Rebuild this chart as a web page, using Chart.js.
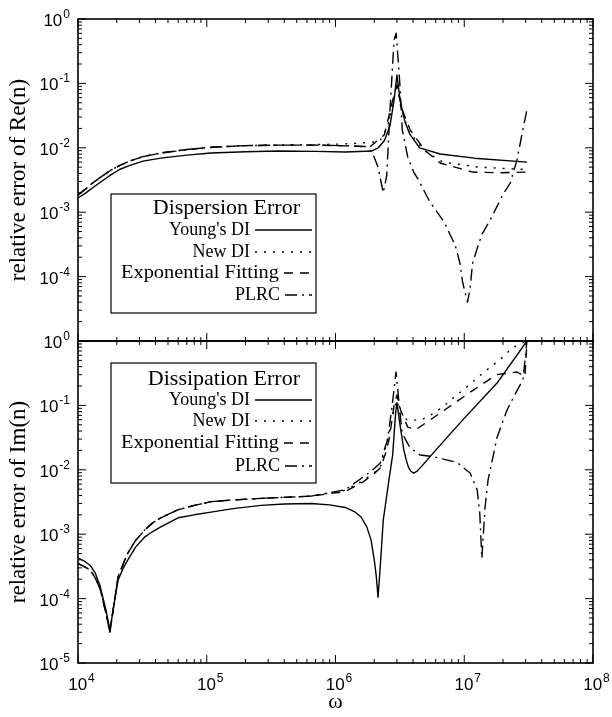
<!DOCTYPE html>
<html>
<head>
<meta charset="utf-8">
<script src="https://cdn.jsdelivr.net/npm/chart.js@4.4.1/dist/chart.umd.min.js"></script>
<style>
  html, body { margin: 0; padding: 0; background: #fff; }
</style>
</head>
<body>
<canvas id="chart" width="612" height="717"></canvas>
<script>
// tick values
const xTicks = [1e4, 1e5, 1e6, 1e7, 1e8];
const reTicks = [1, 1e-1, 1e-2, 1e-3, 1e-4];
const imTicks = [1, 1e-1, 1e-2, 1e-3, 1e-4, 1e-5];
const names = ["Young's DI", 'New DI', 'Exponential Fitting', 'PLRC'];

// dispersion error, relative error of Re(n)
const reYoungW = [1e4, 1.15e4, 1.3e4, 1.5e4, 1.8e4, 2.1e4, 2.5e4, 3.2e4, 4.4e4, 7e4, 1.08e5, 2e5, 3.6e5, 7e5, 1.2e6, 1.9e6, 2.15e6, 2.4e6, 2.65e6, 2.85e6, 3.0e6, 3.17e6, 3.47e6, 3.8e6, 4.5e6, 6.5e6, 1.2e7, 3.07e7];
const reYoungV = [1.66e-3, 2.0e-3, 2.4e-3, 2.95e-3, 3.8e-3, 4.6e-3, 5.3e-3, 6.2e-3, 6.9e-3, 7.7e-3, 8.3e-3, 8.7e-3, 8.9e-3, 8.8e-3, 8.6e-3, 8.9e-3, 1.0e-2, 1.3e-2, 2.2e-2, 5.5e-2, 0.135, 5.5e-2, 2.5e-2, 1.6e-2, 1.0e-2, 8.0e-3, 6.9e-3, 6.0e-3];
const reNewW = [1e4, 1.15e4, 1.3e4, 1.5e4, 1.8e4, 2.1e4, 2.5e4, 3.2e4, 4.4e4, 7e4, 1.08e5, 2e5, 3.6e5, 7e5, 1.2e6, 1.7e6, 2.2e6, 2.55e6, 2.85e6, 3.0e6, 3.2e6, 3.7e6, 4.9e6, 6.8e6, 1.3e7, 3.07e7];
const reNewV = [1.86e-3, 2.3e-3, 2.85e-3, 3.5e-3, 4.5e-3, 5.3e-3, 6.2e-3, 7.3e-3, 8.3e-3, 9.3e-3, 1.01e-2, 1.08e-2, 1.1e-2, 1.12e-2, 1.15e-2, 1.2e-2, 1.25e-2, 2.2e-2, 6e-2, 0.1, 4.5e-2, 1.8e-2, 9e-3, 6e-3, 5e-3, 4.6e-3];
const reExpW = [1e4, 1.15e4, 1.3e4, 1.5e4, 1.8e4, 2.1e4, 2.5e4, 3.2e4, 4.4e4, 7e4, 1.08e5, 2e5, 3.6e5, 7e5, 1.2e6, 1.85e6, 2.4e6, 2.78e6, 3.0e6, 3.3e6, 3.8e6, 4.9e6, 6.5e6, 1.16e7, 1.9e7, 3.07e7];
const reExpV = [1.86e-3, 2.3e-3, 2.85e-3, 3.5e-3, 4.5e-3, 5.3e-3, 6.2e-3, 7.3e-3, 8.3e-3, 9.4e-3, 1.02e-2, 1.08e-2, 1.1e-2, 1.1e-2, 1.07e-2, 1.03e-2, 1.6e-2, 5.5e-2, 0.095, 3.9e-2, 1.9e-2, 9.3e-3, 5.8e-3, 4.2e-3, 4.1e-3, 4.2e-3];
const rePlrcW = [1e4, 1.15e4, 1.3e4, 1.5e4, 1.8e4, 2.1e4, 2.5e4, 3.2e4, 4.4e4, 7e4, 1.08e5, 2e5, 3.6e5, 7e5, 1.2e6, 1.7e6, 1.93e6, 2.14e6, 2.35e6, 2.5e6, 2.65e6, 2.85e6, 2.96e6, 3.15e6, 3.3e6, 3.64e6, 4.05e6, 4.4e6, 5.4e6, 7.0e6, 7.75e6, 8.5e6, 9.27e6, 9.7e6, 1.06e7, 1.11e7, 1.16e7, 1.25e7, 1.37e7, 1.64e7, 1.82e7, 2.0e7, 2.27e7, 2.57e7, 2.82e7, 3.07e7];
const rePlrcV = [1.86e-3, 2.3e-3, 2.85e-3, 3.5e-3, 4.5e-3, 5.3e-3, 6.2e-3, 7.3e-3, 8.3e-3, 9.4e-3, 1.02e-2, 1.08e-2, 1.1e-2, 1.1e-2, 1.08e-2, 1.05e-2, 8.5e-3, 5e-3, 2.0e-3, 3.7e-3, 3.9e-2, 0.47, 0.6, 0.11, 1.9e-2, 7.2e-3, 4.2e-3, 3.2e-3, 1.45e-3, 7e-4, 4.5e-4, 3.1e-4, 1.6e-4, 8.3e-5, 4.0e-5, 6.6e-5, 1.6e-4, 2.6e-4, 4.5e-4, 8.5e-4, 1.3e-3, 1.9e-3, 2.8e-3, 6.5e-3, 1.7e-2, 3.9e-2];

// dissipation error, relative error of Im(n)
const imYoungW = [1e4, 1.1e4, 1.24e4, 1.36e4, 1.48e4, 1.65e4, 1.77e4, 1.9e4, 2.05e4, 2.25e4, 2.44e4, 2.8e4, 3.31e4, 3.8e4, 4.4e4, 6e4, 8e4, 1.08e5, 1.6e5, 2.64e5, 4e5, 6.46e5, 9e5, 1.19e6, 1.4e6, 1.58e6, 1.75e6, 1.89e6, 2.0e6, 2.07e6, 2.14e6, 2.23e6, 2.35e6, 2.6e6, 2.78e6, 2.93e6, 3.0e6, 3.17e6, 3.4e6, 3.55e6, 3.7e6, 3.85e6, 4.05e6, 4.3e6, 4.7e6, 5.42e6, 9.7e6, 1.79e7, 3.07e7];
const imYoungV = [4.3e-4, 3.9e-4, 3.3e-4, 2.5e-4, 1.6e-4, 6.6e-5, 3.2e-5, 8e-5, 1.95e-4, 3.0e-4, 4.0e-4, 6.3e-4, 9.1e-4, 1.1e-3, 1.3e-3, 1.8e-3, 2.0e-3, 2.2e-3, 2.5e-3, 2.8e-3, 2.95e-3, 3.0e-3, 2.85e-3, 2.6e-3, 2.25e-3, 1.85e-3, 1.3e-3, 8.1e-4, 4e-4, 2.3e-4, 1.05e-4, 3.3e-4, 1.66e-3, 6.9e-3, 1.7e-2, 7.6e-2, 0.11, 5e-2, 2.0e-2, 1.4e-2, 1.07e-2, 9.5e-3, 8.9e-3, 9.5e-3, 1.15e-2, 1.6e-2, 5.9e-2, 0.22, 1.0];
const imNewW = [1e4, 1.1e4, 1.24e4, 1.36e4, 1.48e4, 1.65e4, 1.77e4, 1.9e4, 2.05e4, 2.25e4, 2.44e4, 2.8e4, 3.31e4, 3.8e4, 4.4e4, 6e4, 8e4, 1.08e5, 1.6e5, 2.64e5, 6.46e5, 1.19e6, 1.64e6, 2.0e6, 2.23e6, 2.6e6, 2.85e6, 3.0e6, 3.2e6, 3.64e6, 4.6e6, 5.5e6, 6.84e6, 8.18e6, 9.7e6, 1.16e7, 1.4e7, 1.67e7, 1.99e7, 2.35e7, 2.81e7, 3.07e7];
const imNewV = [3.5e-4, 3.2e-4, 2.8e-4, 2.1e-4, 1.45e-4, 5.9e-5, 3.0e-5, 8e-5, 2.2e-4, 3.5e-4, 5.1e-4, 8e-4, 1.17e-3, 1.5e-3, 1.8e-3, 2.4e-3, 2.8e-3, 3.2e-3, 3.4e-3, 3.6e-3, 3.9e-3, 4.8e-3, 6.8e-3, 9e-3, 1.1e-2, 3.5e-2, 9e-2, 0.12, 7e-2, 5.9e-2, 5.9e-2, 7.1e-2, 9.5e-2, 0.13, 0.17, 0.23, 0.32, 0.42, 0.56, 0.78, 0.93, 1.0];
const imExpW = [1e4, 1.1e4, 1.24e4, 1.36e4, 1.48e4, 1.65e4, 1.77e4, 1.9e4, 2.05e4, 2.25e4, 2.44e4, 2.8e4, 3.31e4, 3.8e4, 4.4e4, 6e4, 8e4, 1.08e5, 1.6e5, 2.64e5, 6.46e5, 1.19e6, 1.64e6, 2.0e6, 2.23e6, 2.45e6, 2.6e6, 2.75e6, 2.85e6, 3.0e6, 3.2e6, 3.64e6, 4.2e6, 6.5e6, 1.16e7, 1.79e7, 2.57e7, 2.96e7, 3.07e7];
const imExpV = [3.5e-4, 3.2e-4, 2.8e-4, 2.1e-4, 1.45e-4, 5.9e-5, 3.0e-5, 8e-5, 2.2e-4, 3.5e-4, 5.1e-4, 8e-4, 1.17e-3, 1.5e-3, 1.8e-3, 2.4e-3, 2.8e-3, 3.2e-3, 3.4e-3, 3.6e-3, 3.9e-3, 4.6e-3, 6.5e-3, 8.8e-3, 1.07e-2, 1.8e-2, 2.9e-2, 6e-2, 0.1, 0.145, 0.085, 4.6e-2, 4.2e-2, 7.6e-2, 0.17, 0.30, 0.33, 0.28, 1.0];
const imPlrcW = [1e4, 1.1e4, 1.24e4, 1.36e4, 1.48e4, 1.65e4, 1.77e4, 1.9e4, 2.05e4, 2.25e4, 2.44e4, 2.8e4, 3.31e4, 3.8e4, 4.4e4, 6e4, 8e4, 1.08e5, 1.6e5, 2.64e5, 6.46e5, 1.19e6, 1.64e6, 2.0e6, 2.23e6, 2.53e6, 2.75e6, 2.95e6, 3.1e6, 3.29e6, 3.79e6, 4.53e6, 5.74e6, 8.78e6, 1.11e7, 1.26e7, 1.32e7, 1.37e7, 1.45e7, 1.53e7, 1.8e7, 2.15e7, 2.57e7, 2.86e7, 2.96e7, 3.07e7];
const imPlrcV = [3.5e-4, 3.2e-4, 2.8e-4, 2.1e-4, 1.45e-4, 5.9e-5, 3.0e-5, 8e-5, 2.2e-4, 3.5e-4, 5.1e-4, 8e-4, 1.17e-3, 1.5e-3, 1.8e-3, 2.4e-3, 2.8e-3, 3.2e-3, 3.4e-3, 3.6e-3, 3.9e-3, 4.9e-3, 7.7e-3, 1.05e-2, 1.28e-2, 2.9e-2, 9.5e-2, 0.33, 0.12, 3.7e-2, 2.2e-2, 1.7e-2, 1.6e-2, 1.3e-2, 8.9e-3, 4.9e-3, 2.1e-3, 4.2e-4, 2.6e-3, 6.9e-3, 3.2e-2, 8.5e-2, 0.17, 0.25, 0.5, 1.0];

const dashes = [[], [2, 7], [9, 7], [12, 5, 2, 5]];

function pts(ws, vs) {
    return ws.map((w, i) => ({ x: w, y: vs[i] }));
}

function ds(i, axis, ws, vs) {
    return {
        label: names[i],
        data: pts(ws, vs),
        yAxisID: axis,
        borderColor: '#000',
        borderWidth: 1.4,
        borderDash: dashes[i],
        borderJoinStyle: 'round',
        pointRadius: 0,
        tension: 0,
        fill: false
    };
}

const datasets = [
    ds(0, 'yRe', reYoungW, reYoungV),
    ds(1, 'yRe', reNewW, reNewV),
    ds(2, 'yRe', reExpW, reExpV),
    ds(3, 'yRe', rePlrcW, rePlrcV),
    ds(0, 'yIm', imYoungW, imYoungV),
    ds(1, 'yIm', imNewW, imNewV),
    ds(2, 'yIm', imExpW, imExpV),
    ds(3, 'yIm', imPlrcW, imPlrcV)
];

// draws the label "10" with a raised exponent
function pow10Label(c, v, x, y, align) {
    const e = String(Math.round(Math.log10(v)));
    c.font = '17px "Liberation Sans", Arial, sans-serif';
    const w1 = c.measureText('10').width;
    c.font = '12px "Liberation Sans", Arial, sans-serif';
    const w2 = c.measureText(e).width;
    let x0 = align === 'right' ? x - w1 - w2 : x - (w1 + w2) / 2;
    c.textAlign = 'left';
    c.textBaseline = 'alphabetic';
    c.font = '17px "Liberation Sans", Arial, sans-serif';
    c.fillText('10', x0, y + 7);
    c.font = '12px "Liberation Sans", Arial, sans-serif';
    c.fillText(e, x0 + w1 + 1, y - 1);
}

// legend boxes for both panels
const legendBoxes = [
    { axis: 'yRe', title: 'Dispersion Error', box: [111, 194, 316, 313], titleY: 214, rows: [235, 257, 278, 300] },
    { axis: 'yIm', title: 'Dissipation Error', box: [111, 363, 316, 483], titleY: 385, rows: [405, 426, 448, 471] }
];
const textRight = [250, 250, 279, 280];
const textLeft = [null, null, 121, null];

const framePlugin = {
    id: 'frame',
    afterDraw(chart) {
        const c = chart.ctx;
        const xs = chart.scales.x;
        const left = chart.chartArea.left, right = chart.chartArea.right;
        c.save();
        c.strokeStyle = '#000';
        c.fillStyle = '#000';
        const seg = (x1, y1, x2, y2) => { c.beginPath(); c.moveTo(x1, y1); c.lineTo(x2, y2); c.stroke(); };

        ['yRe', 'yIm'].forEach(id => {
            const ys = chart.scales[id];
            c.setLineDash([]);
            c.lineWidth = 1.6;
            c.strokeRect(left, ys.top, right - left, ys.bottom - ys.top);
            c.lineWidth = 1;
            for (let e = -5; e <= 0; e++) {
                for (let m = 1; m <= 9; m++) {
                    const v = m * Math.pow(10, e);
                    if (v > 1) break;
                    const y = ys.getPixelForValue(v);
                    const len = m === 1 ? 8 : 4;
                    seg(left, y, left + len, y);
                    seg(right, y, right - len, y);
                }
            }
            for (let e = 4; e <= 8; e++) {
                for (let m = 1; m <= 9; m++) {
                    const v = m * Math.pow(10, e);
                    if (v > 1e8) break;
                    const x = xs.getPixelForValue(v);
                    const len = m === 1 ? 8 : 4;
                    seg(x, ys.top, x, ys.top + len);
                    seg(x, ys.bottom, x, ys.bottom - len);
                }
            }
        });

        // tick labels
        reTicks.forEach(v => pow10Label(c, v, left - 9, chart.scales.yRe.getPixelForValue(v), 'right'));
        imTicks.forEach(v => pow10Label(c, v, left - 9, chart.scales.yIm.getPixelForValue(v), 'right'));
        xTicks.forEach(v => pow10Label(c, v, xs.getPixelForValue(v) + 3, xs.top + 20, 'center'));

        // legends
        legendBoxes.forEach(lb => {
            const [x1, y1, x2, y2] = lb.box;
            c.setLineDash([]);
            c.lineWidth = 1.2;
            c.fillStyle = '#fff';
            c.fillRect(x1, y1, x2 - x1, y2 - y1);
            c.strokeRect(x1, y1, x2 - x1, y2 - y1);
            c.fillStyle = '#000';
            c.textAlign = 'right';
            c.textBaseline = 'alphabetic';
            c.font = '22px "Liberation Serif", "Times New Roman", serif';
            c.fillText(lb.title, 300, lb.titleY);
            c.font = '18px "Liberation Serif", "Times New Roman", serif';
            const sets = chart.data.datasets.filter(d => d.yAxisID === lb.axis);
            sets.forEach((d, i) => {
                const by = lb.rows[i];
                if (textLeft[i]) {
                    // the long label is set a little wider in the original
                    const w = c.measureText(d.label).width;
                    const k = (textRight[i] - textLeft[i]) / w;
                    c.save();
                    c.translate(textLeft[i], by);
                    c.scale(k, 1);
                    c.textAlign = 'left';
                    c.fillText(d.label, 0, 0);
                    c.restore();
                } else {
                    c.fillText(d.label, textRight[i], by);
                }
                c.lineWidth = d.borderWidth;
                c.setLineDash(d.borderDash);
                seg(textRight[i] + 5, by - 5, 312, by - 5);
            });
        });
        c.restore();
    }
};

const serif = '"Liberation Serif", serif';

new Chart(document.getElementById('chart'), {
    type: 'line',
    data: { datasets },
    options: {
        responsive: false,
        animation: false,
        layout: { padding: { top: 19, right: 19, left: 0, bottom: 0 } },
        plugins: { legend: { display: false }, tooltip: { enabled: false } },
        scales: {
            x: {
                type: 'logarithmic', position: 'bottom', min: 1e4, max: 1e8,
                grid: { display: false }, border: { display: false },
                ticks: { display: false },
                title: { display: true, text: 'ω', color: '#000', padding: { top: 0, bottom: 2 },
                    font: { family: serif, size: 22 } },
                afterFit: s => { s.height = 54; }
            },
            // stacked axes are placed bottom first
            yIm: {
                type: 'logarithmic', position: 'left', stack: 'panels', stackWeight: 1,
                min: 1e-5, max: 1,
                grid: { display: false }, border: { display: false },
                ticks: { display: false },
                title: { display: true, text: 'relative error of Im(n)', color: '#000', padding: { top: 5, bottom: 0 },
                    font: { family: serif, size: 23 } },
                afterFit: s => { s.width = 78; }
            },
            yRe: {
                type: 'logarithmic', position: 'left', stack: 'panels', stackWeight: 1,
                min: 1e-5, max: 1,
                grid: { display: false }, border: { display: false },
                ticks: { display: false },
                title: { display: true, text: 'relative error of Re(n)', color: '#000', padding: { top: 5, bottom: 0 },
                    font: { family: serif, size: 23 } },
                afterFit: s => { s.width = 78; }
            }
        }
    },
    plugins: [framePlugin]
});
</script>
</body>
</html>
